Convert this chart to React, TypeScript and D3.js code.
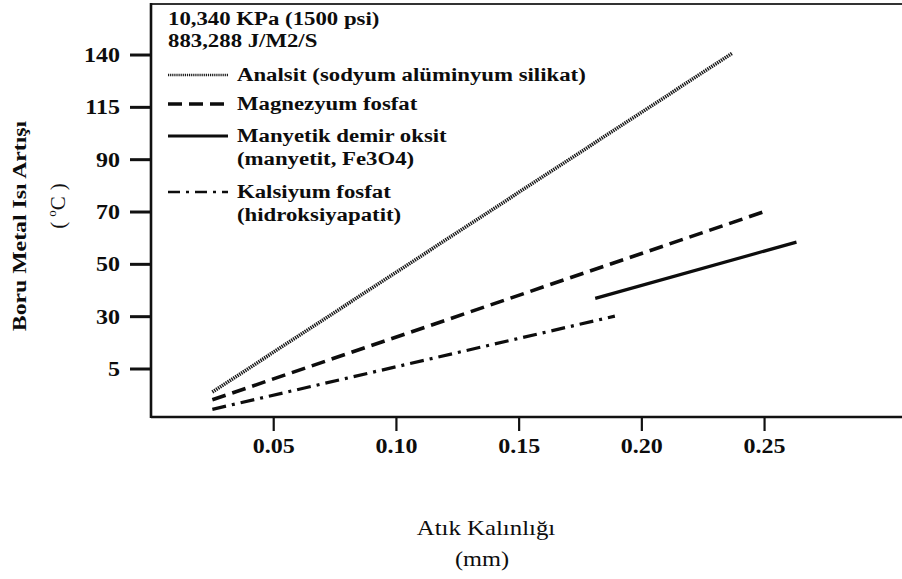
import React from "react";
import * as d3 from "d3";

// Heat-rise lines: [thickness mm, temperature rise °C]
const analsit: [number, number][] = [[0.025, 2.6], [0.237, 141]];
const magnezyum: [number, number][] = [[0.025, 1.8], [0.251, 70.5]];
const manyetik: [number, number][] = [[0.181, 37], [0.263, 58.5]];
const kalsiyum: [number, number][] = [[0.025, 0.8], [0.189, 30.2]];

const xTicks = [0.05, 0.1, 0.15, 0.2, 0.25];
const xTickLabels = ["0.05", "0.10", "0.15", "0.20", "0.25"];
const yTicks = [5, 30, 50, 70, 90, 115, 140];

const headerLines = ["10,340 KPa (1500 psi)", "883,288 J/M2/S"];
const legendLabels = [
  ["Analsit (sodyum alüminyum silikat)"],
  ["Magnezyum fosfat"],
  ["Manyetik demir oksit", "(manyetit, Fe3O4)"],
  ["Kalsiyum fosfat", "(hidroksiyapatit)"],
];

const W = 902;
const H = 579;
const left = 151;
const top = 4;
const bottom = 417;
const yTickStart = 369;
const yTickStep = 52.33;
const SX = 1.2;
const FONT = "'Liberation Serif', 'Times New Roman', serif";

const styles = [
  { dash: "1.4 0.9", width: 3.6, color: "#1a1a1a", legendDash: "1.2 0.9", legendWidth: 2.6 },
  { dash: "14 7", width: 3.6, color: "#0d0d0d", legendDash: "14 7", legendWidth: 3.6 },
  { dash: "none", width: 3.2, color: "#0d0d0d", legendDash: "none", legendWidth: 3.2 },
  { dash: "14 6 3 6", width: 3.2, color: "#0d0d0d", legendDash: "12 6 3 6", legendWidth: 2.6 },
];

function SText({ x, y, sx = SX, anchor = "start", size = 19, weight = "bold", children }: any) {
  return (
    <text
      transform={`translate(${x},${y}) scale(${sx},1)`}
      textAnchor={anchor}
      fontSize={size}
      fontWeight={weight}
      fontFamily={FONT}
      fill="#0d0d0d"
    >
      {children}
    </text>
  );
}

export default function App() {
  const x = d3.scaleLinear().domain([0, 0.306]).range([left, W]);
  // Tick marks are equally spaced though their values are not; a piecewise scale maps them
  const y = d3
    .scaleLinear()
    .domain([0, ...yTicks])
    .range([bottom, ...yTicks.map((_, i) => yTickStart - i * yTickStep)]);

  const line = d3
    .line<[number, number]>()
    .x((d) => x(d[0]))
    .y((d) => y(d[1]));

  const series = [analsit, magnezyum, manyetik, kalsiyum];

  const legendTextY = [
    [81],
    [110],
    [142, 165],
    [198, 221],
  ];
  const legendSampleY = [75, 104, 136, 192];

  return (
    <svg
      width={W}
      height={H}
      style={{ position: "absolute", left: 0, top: 0, background: "#fff" }}
    >
      <rect width={W} height={H} fill="#fff" />

      {/* frame */}
      <line x1={left} x2={W} y1={top} y2={top} stroke="#333" strokeWidth={2.2} />
      <line x1={left} x2={left} y1={top - 1} y2={bottom + 1} stroke="#111" strokeWidth={2.6} />
      <line x1={left} x2={W} y1={bottom} y2={bottom} stroke="#111" strokeWidth={2.6} />

      {/* y axis */}
      {yTicks.map((t) => (
        <g key={t}>
          <line x1={130} x2={left} y1={y(t)} y2={y(t)} stroke="#111" strokeWidth={3} />
          <SText x={120} y={y(t) + 7} anchor="end" size={20}>
            {t}
          </SText>
        </g>
      ))}

      {/* x axis */}
      {xTicks.map((t, i) => (
        <g key={t}>
          <line x1={x(t)} x2={x(t)} y1={bottom} y2={bottom + 14} stroke="#111" strokeWidth={2.2} />
          <SText x={x(t)} y={453} anchor="middle" size={20}>
            {xTickLabels[i]}
          </SText>
        </g>
      ))}

      {/* series */}
      {series.map((s, i) => (
        <path
          key={i}
          d={line(s) ?? ""}
          fill="none"
          stroke={styles[i].color}
          strokeWidth={styles[i].width}
          strokeDasharray={styles[i].dash}
        />
      ))}

      {/* header and legend */}
      {headerLines.map((t, i) => (
        <SText key={t} x={168} y={25 + i * 22} size={19}>
          {t}
        </SText>
      ))}
      {legendLabels.map((lines, i) => (
        <g key={i}>
          <line
            x1={168}
            x2={228}
            y1={legendSampleY[i]}
            y2={legendSampleY[i]}
            stroke={styles[i].color}
            strokeWidth={styles[i].legendWidth}
            strokeDasharray={styles[i].legendDash}
          />
          {lines.map((t, j) => (
            <SText key={t} x={237} y={legendTextY[i][j]} size={19}>
              {t}
            </SText>
          ))}
        </g>
      ))}

      {/* axis titles */}
      <g transform="translate(26,226) rotate(-90)">
        <SText x={0} y={0} anchor="middle" size={19} sx={1.25}>
          Boru Metal Isı Artışı
        </SText>
      </g>
      <g transform="translate(65,206) rotate(-90)">
        <text textAnchor="middle" fontSize={21} fontFamily={FONT} fill="#111">
          <tspan>(</tspan>
          <tspan dx={5} dy={-9} fontSize={13}>o</tspan>
          <tspan dy={9}>C</tspan>
          <tspan dx={6}>)</tspan>
        </text>
      </g>
      <SText x={486} y={535} anchor="middle" size={20} weight="normal" sx={1.24}>
        Atık Kalınlığı
      </SText>
      <SText x={482} y={566} anchor="middle" size={20} weight="normal" sx={1.22}>
        (mm)
      </SText>
    </svg>
  );
}
